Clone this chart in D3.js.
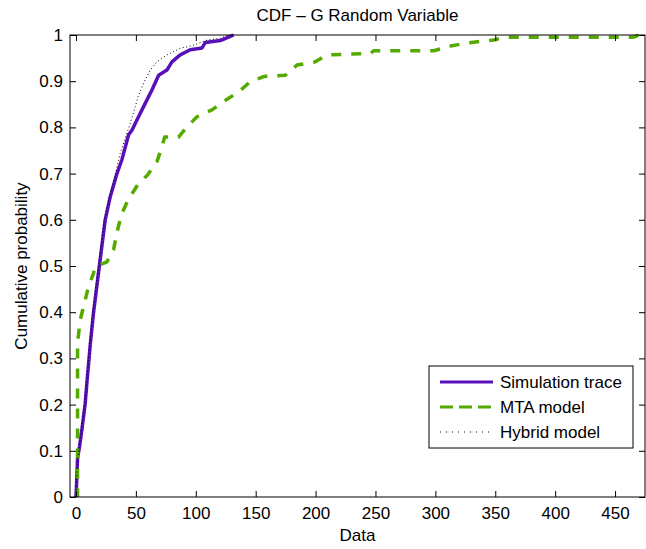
<!DOCTYPE html>
<html lang="en">
<head>
  <meta charset="UTF-8">
  <title>CDF - G Random Variable</title>
  <script src="https://d3js.org/d3.v7.min.js"></script>
  <style>
    body {
      margin: 0;
      background: #fff;
    }

    text {
      font-family: "Liberation Sans", Arial, sans-serif;
      font-size: 17px;
      fill: #000;
    }
  </style>
</head>
<body>

<svg width="646" height="549"></svg>

<script>
  // Simulation trace (empirical CDF)
  const simX = [0, 0.5, 1.3, 3, 4.9, 7.7, 9.1, 11.9, 14.6, 19.4, 24.4, 28.6, 34.2, 38.3, 43.9, 46.7, 52.2, 57.8, 63.4, 69, 75.9, 80.1, 87, 95.4, 105.2, 108, 120.5, 128.8, 131.6];
  const simY = [0, 0.03, 0.084, 0.11, 0.145, 0.203, 0.247, 0.33, 0.398, 0.498, 0.6, 0.65, 0.7, 0.73, 0.784, 0.794, 0.823, 0.852, 0.881, 0.913, 0.924, 0.942, 0.957, 0.968, 0.972, 0.984, 0.988, 0.997, 1];

  // MTA model
  const mtaX = [0, 1.3, 1.3, 3.5, 6.3, 10.4, 14.6, 16, 25.8, 31.3, 34.7, 38.3, 43.9, 51.4, 59.7, 67.6, 71.8, 74, 85.6, 92.6, 101, 113.5, 123.2, 135.8, 145.5, 156.6, 174.8, 177.5, 184.5, 199.8, 209.6, 245.8, 248.5, 298.7, 312.6, 326.6, 348.8, 357.2, 465, 470];
  const mtaY = [0, 0, 0.333, 0.383, 0.412, 0.455, 0.484, 0.498, 0.509, 0.535, 0.578, 0.614, 0.645, 0.675, 0.697, 0.726, 0.758, 0.779, 0.779, 0.801, 0.823, 0.838, 0.856, 0.877, 0.899, 0.91, 0.913, 0.92, 0.935, 0.942, 0.957, 0.96, 0.966, 0.966, 0.976, 0.983, 0.989, 0.995, 0.995, 1];

  // Hybrid model
  const hybX = [0, 0.5, 1.3, 4.5, 7.3, 9, 11.5, 14, 18.8, 23.5, 28, 33, 36.9, 45.3, 49.5, 52.2, 57.8, 62, 67.6, 75.9, 87, 98.2, 109.3, 120.5, 127];
  const hybY = [0, 0.03, 0.08, 0.145, 0.2, 0.25, 0.33, 0.4, 0.5, 0.6, 0.65, 0.7, 0.744, 0.809, 0.845, 0.87, 0.903, 0.924, 0.942, 0.957, 0.971, 0.978, 0.989, 0.993, 1];

  const xTicks = [0, 50, 100, 150, 200, 250, 300, 350, 400, 450];
  const yTicks = [0, 0.1, 0.2, 0.3, 0.4, 0.5, 0.6, 0.7, 0.8, 0.9, 1];

  const series = [
    {name: "Simulation trace", xs: simX, ys: simY, color: "#5a10b8", width: 3.5, dash: null, legendDash: null},
    {name: "MTA model", xs: mtaX, ys: mtaY, color: "#55aa00", width: 3.5, dash: "10,10", legendDash: "13,6"},
    {name: "Hybrid model", xs: hybX, ys: hybY, color: "#000", width: 1, dash: "1,2.5", legendDash: "1,5"}
  ];

  const svg = d3.select("svg");
  const box = {left: 70, right: 645, top: 35, bottom: 497};

  const x = d3.scaleLinear().domain([-5, 475]).range([box.left, box.right]);
  const y = d3.scaleLinear().domain([0, 1]).range([box.bottom, box.top]);

  svg.append("clipPath").attr("id", "plot-clip")
    .append("rect")
    .attr("x", box.left).attr("y", box.top - 2)
    .attr("width", box.right - box.left).attr("height", box.bottom - box.top + 2);

  const line = d3.line()
    .x(d => x(d[0]))
    .y(d => y(d[1]));

  const plot = svg.append("g").attr("clip-path", "url(#plot-clip)");

  series.forEach(s => {
    plot.append("path")
      .datum(s.xs.map((v, i) => [v, s.ys[i]]))
      .attr("fill", "none")
      .attr("stroke", s.color)
      .attr("stroke-width", s.width)
      .attr("stroke-dasharray", s.dash)
      .attr("stroke-linejoin", "round")
      .attr("d", line);
  });

  // Axes, MATLAB style: ticks inside on all four sides
  const tickLen = 6;
  svg.append("g")
    .attr("transform", `translate(0,${box.bottom})`)
    .call(d3.axisBottom(x).tickValues(xTicks).tickSizeInner(-tickLen).tickSizeOuter(0).tickPadding(10))
    .call(g => g.select(".domain").remove());
  svg.append("g")
    .attr("transform", `translate(0,${box.top})`)
    .call(d3.axisTop(x).tickValues(xTicks).tickSizeInner(-tickLen).tickSizeOuter(0).tickFormat(""))
    .call(g => g.select(".domain").remove());
  svg.append("g")
    .attr("transform", `translate(${box.left},0)`)
    .call(d3.axisLeft(y).tickValues(yTicks).tickSizeInner(-tickLen).tickSizeOuter(0).tickPadding(7).tickFormat(d3.format("~g")))
    .call(g => g.select(".domain").remove());
  svg.append("g")
    .attr("transform", `translate(${box.right},0)`)
    .call(d3.axisRight(y).tickValues(yTicks).tickSizeInner(-tickLen).tickSizeOuter(0).tickFormat(""))
    .call(g => g.select(".domain").remove());

  svg.selectAll(".tick text").attr("font-size", 17).attr("font-family", "Liberation Sans, Arial, sans-serif");

  svg.append("rect")
    .attr("x", box.left).attr("y", box.top)
    .attr("width", box.right - box.left).attr("height", box.bottom - box.top)
    .attr("fill", "none")
    .attr("stroke", "#000")
    .attr("stroke-width", 1);

  // Labels
  svg.append("text")
    .attr("x", (box.left + box.right) / 2)
    .attr("y", 21)
    .attr("text-anchor", "middle")
    .text("CDF \u2013 G Random Variable");

  svg.append("text")
    .attr("x", (box.left + box.right) / 2)
    .attr("y", 541)
    .attr("text-anchor", "middle")
    .text("Data");

  svg.append("text")
    .attr("transform", `translate(27,${(box.top + box.bottom) / 2}) rotate(-90)`)
    .attr("text-anchor", "middle")
    .text("Cumulative probability");

  // Legend
  const legend = svg.append("g").attr("transform", "translate(429,366)");
  legend.append("rect")
    .attr("width", 204).attr("height", 82)
    .attr("fill", "#fff")
    .attr("stroke", "#000");

  series.forEach((s, i) => {
    const ly = 16 + i * 25;
    legend.append("line")
      .attr("x1", 11).attr("x2", 64)
      .attr("y1", ly).attr("y2", ly)
      .attr("stroke", s.color)
      .attr("stroke-width", s.width === 1 ? 1 : 3)
      .attr("stroke-dasharray", s.legendDash);
    legend.append("text")
      .attr("x", 71)
      .attr("y", ly + 6)
      .text(s.name);
  });
</script>

</body>
</html>
